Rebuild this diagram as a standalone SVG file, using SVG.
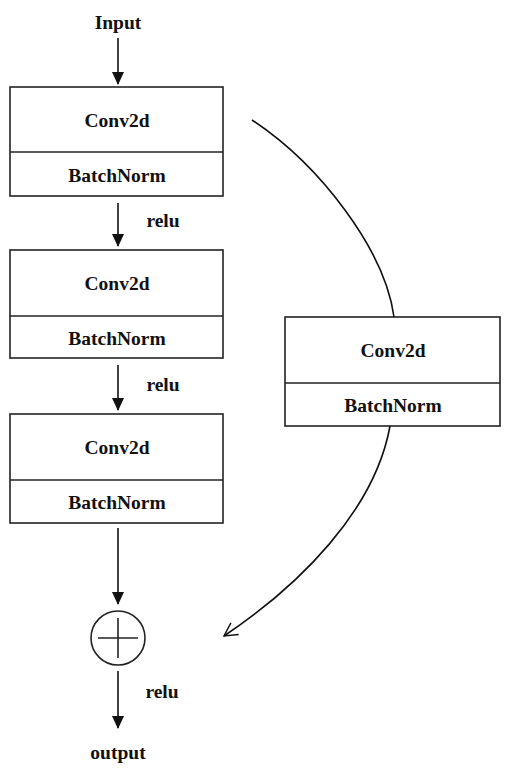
<svg xmlns="http://www.w3.org/2000/svg" width="510" height="776" viewBox="0 0 510 776">
<defs>
<marker id="ah" markerWidth="14" markerHeight="14" refX="12" refY="7" orient="auto" markerUnits="userSpaceOnUse">
<path d="M0,1 L13,7 L0,13 Z" fill="#111"/>
</marker>
<marker id="oh" markerWidth="16" markerHeight="16" refX="14" refY="8" orient="auto" markerUnits="userSpaceOnUse">
<path d="M1,1 L14,8 L1,15" fill="none" stroke="#111" stroke-width="1.4"/>
</marker>
<style>
.box{fill:#fff;stroke:#222;stroke-width:1.6}
.ln{stroke:#222;stroke-width:1.6;fill:none}
.t{font-family:"Liberation Serif",serif;font-weight:bold;font-size:19.5px;fill:#111;text-anchor:middle}
.c{stroke:#111;stroke-width:1.6;fill:none}
</style>
</defs>
<rect width="510" height="776" fill="#fff"/>
<g id="input"><text class="t" x="118" y="29">Input</text></g>
<g id="block1">
<rect class="box" x="10" y="87" width="213" height="109"/>
<line class="ln" x1="10" y1="152" x2="223" y2="152"/>
<text class="t" x="117" y="127">Conv2d</text>
<text class="t" x="117" y="182">BatchNorm</text>
</g>
<g id="block2">
<rect class="box" x="10" y="250" width="213" height="108"/>
<line class="ln" x1="10" y1="316" x2="223" y2="316"/>
<text class="t" x="117" y="290">Conv2d</text>
<text class="t" x="117" y="345">BatchNorm</text>
</g>
<g id="block3">
<rect class="box" x="10" y="414" width="213" height="109"/>
<line class="ln" x1="10" y1="480" x2="223" y2="480"/>
<text class="t" x="117" y="454">Conv2d</text>
<text class="t" x="117" y="509">BatchNorm</text>
</g>
<g id="shortcut">
<rect class="box" x="285" y="317" width="215" height="109"/>
<line class="ln" x1="285" y1="383" x2="500" y2="383"/>
<text class="t" x="393" y="357">Conv2d</text>
<text class="t" x="393" y="412">BatchNorm</text>
</g>
<g id="add">
<circle class="box" cx="118" cy="638" r="27"/>
<line class="ln" x1="98" y1="638" x2="138" y2="638"/>
<line class="ln" x1="118" y1="618" x2="118" y2="658"/>
</g>
<g id="output"><text class="t" x="118" y="759">output</text></g>
<g id="connectors">
<line class="c" x1="118" y1="38" x2="118" y2="84" marker-end="url(#ah)"/>
<line class="c" x1="118" y1="203" x2="118" y2="246" marker-end="url(#ah)"/>
<line class="c" x1="118" y1="365" x2="118" y2="410" marker-end="url(#ah)"/>
<line class="c" x1="118" y1="528" x2="118" y2="604" marker-end="url(#ah)"/>
<line class="c" x1="118" y1="671" x2="118" y2="728" marker-end="url(#ah)"/>
<path class="c" d="M252,120 C320,165 385,250 394,317"/>
<path class="c" d="M390,426 C375,510 300,585 224,636" marker-end="url(#oh)"/>
<text class="t" x="163" y="227">relu</text>
<text class="t" x="163" y="391">relu</text>
<text class="t" x="162" y="698">relu</text>
</g>
</svg>
